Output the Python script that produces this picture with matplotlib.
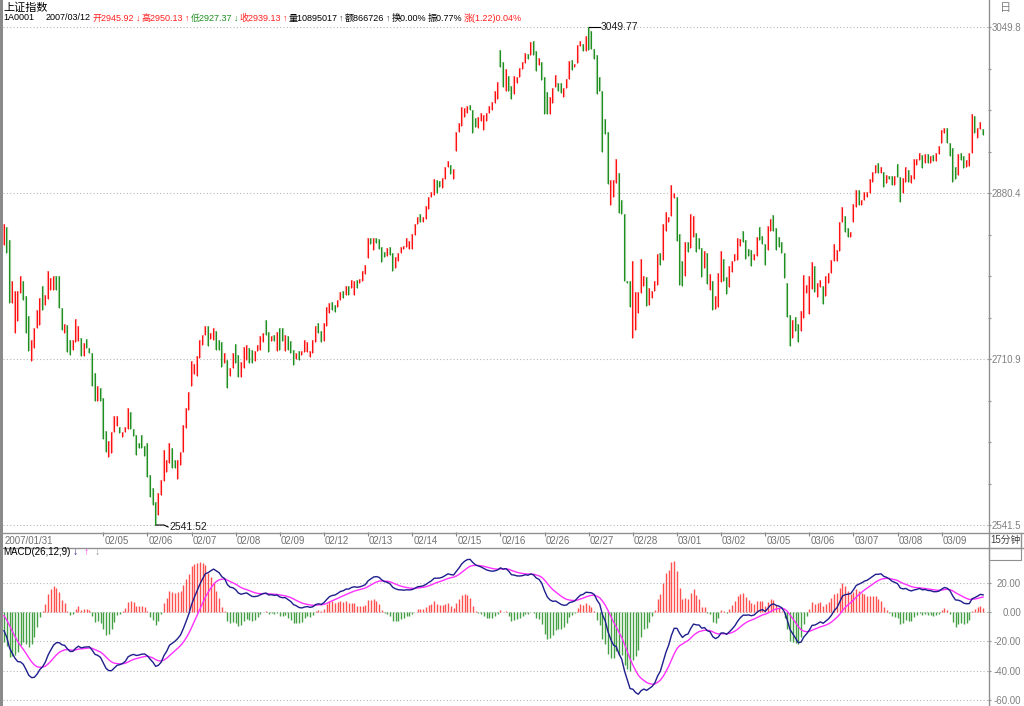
import numpy as np
import matplotlib
matplotlib.use('Agg')
import matplotlib.pyplot as plt
from matplotlib.lines import Line2D
from matplotlib.patches import Rectangle

plt.rcParams['font.family'] = ['Liberation Sans', 'Noto Sans CJK SC', 'DejaVu Sans']

W, H = 1024, 706

# 上证指数 15-minute bars, 2007/01/31 .. 2007/03/12 (open / close of each bar)
opens = [
    2827.2, 2845.5, 2832.6, 2768.0, 2737.4, 2749.3, 2778.2, 2790.8, 2774.8, 2754.4,
    2708.5, 2722.1, 2742.5, 2745.9, 2785.0, 2766.3, 2772.1, 2781.6, 2780.9, 2795.9,
    2795.9, 2762.9, 2737.4, 2745.9, 2730.6, 2720.4, 2727.9, 2728.9, 2732.3, 2713.6,
    2731.3, 2722.1, 2717.0, 2696.6, 2667.7, 2681.3, 2671.1, 2637.1, 2610.6, 2615.0,
    2636.1, 2642.2, 2641.5, 2631.3, 2636.1, 2639.5, 2656.5, 2639.5, 2633.7, 2625.2,
    2633.7, 2621.8, 2625.2, 2592.9, 2579.3, 2564.7, 2552.1, 2572.5, 2586.1, 2595.3,
    2604.8, 2620.1, 2608.2, 2588.5, 2603.1, 2615.7, 2640.5, 2658.5, 2683.7, 2695.9,
    2693.2, 2711.9, 2725.5, 2735.7, 2744.9, 2731.3, 2729.9, 2739.1, 2729.9, 2727.9,
    2706.8, 2710.2, 2693.2, 2701.7, 2726.5, 2715.3, 2692.5, 2701.7, 2710.2, 2722.1,
    2719.7, 2708.5, 2718.7, 2720.4, 2727.9, 2751.0, 2738.1, 2728.9, 2735.7, 2718.7,
    2742.5, 2742.5, 2718.7, 2734.7, 2728.9, 2720.4, 2710.9, 2718.7, 2715.3, 2717.7,
    2717.7, 2712.9, 2717.0, 2727.9, 2747.6, 2739.1, 2728.9, 2744.9, 2757.8, 2768.7,
    2766.3, 2763.9, 2770.7, 2779.9, 2776.5, 2785.0, 2783.3, 2776.5, 2791.8, 2788.4,
    2790.1, 2797.9, 2813.9, 2834.3, 2822.4, 2834.3, 2833.3, 2825.8, 2819.7, 2816.3,
    2825.1, 2819.0, 2803.7, 2810.5, 2819.0, 2823.1, 2825.8, 2823.1, 2823.1, 2837.7,
    2848.9, 2859.1, 2851.3, 2853.7, 2863.9, 2876.8, 2878.5, 2893.8, 2893.1, 2885.3,
    2894.5, 2907.4, 2909.1, 2894.5, 2923.7, 2943.1, 2948.9, 2958.4, 2962.5, 2970.3,
    2965.2, 2956.7, 2946.5, 2954.3, 2944.8, 2954.3, 2961.8, 2965.2, 2972.7, 2976.1,
    3026.4, 3014.5, 2984.6, 2999.9, 2989.7, 2981.5, 2993.1, 2998.5, 3006.7, 3012.8,
    3022.3, 3021.3, 3035.9, 3025.7, 3011.1, 3014.5, 2998.5, 2983.9, 2961.1, 2972.0,
    2989.0, 2993.1, 2992.4, 2978.1, 2987.3, 2996.5, 3016.2, 3008.7, 3012.8, 3030.5,
    3032.5, 3025.7, 3049.77, 3046.1, 3027.1, 3021.3, 2998.5, 2984.9, 2955.7, 2943.1,
    2868.3, 2876.8, 2890.4, 2900.6, 2873.4, 2859.1, 2790.1, 2790.1, 2732.3, 2740.8,
    2757.8, 2778.2, 2785.0, 2794.5, 2766.3, 2773.1, 2779.9, 2786.7, 2819.0, 2812.2,
    2842.1, 2850.3, 2857.1, 2875.1, 2876.8, 2838.7, 2810.5, 2795.9, 2830.9, 2824.1,
    2835.3, 2839.4, 2834.3, 2824.1, 2803.7, 2819.0, 2780.9, 2791.1, 2761.9, 2763.9,
    2789.1, 2812.9, 2794.5, 2784.3, 2799.3, 2811.5, 2812.2, 2826.5, 2842.1, 2832.6,
    2823.1, 2822.4, 2812.2, 2815.6, 2845.5, 2836.7, 2828.5, 2822.4, 2842.1, 2858.1,
    2844.5, 2836.0, 2830.9, 2819.0, 2788.4, 2756.1, 2732.3, 2753.7, 2746.9, 2739.1,
    2752.7, 2778.2, 2757.1, 2782.3, 2806.1, 2774.1, 2784.3, 2785.0, 2775.5, 2788.4,
    2798.6, 2810.5, 2810.5, 2820.7, 2851.3, 2857.1, 2844.5, 2835.3, 2850.3, 2865.9,
    2883.6, 2868.3, 2873.4, 2876.1, 2880.9, 2892.1, 2901.3, 2910.8, 2901.3, 2902.3,
    2891.1, 2897.9, 2897.9, 2888.7, 2910.1, 2896.5, 2880.2, 2892.1, 2904.0, 2890.4,
    2894.5, 2909.1, 2914.2, 2919.3, 2910.8, 2920.3, 2911.5, 2919.3, 2913.5, 2920.3,
    2931.2, 2941.4, 2946.5, 2931.2, 2926.1, 2907.4, 2898.9, 2921.0, 2918.3, 2907.4,
    2908.1, 2921.0, 2959.1, 2936.3, 2945.5, 2945.92,
]
closes = [
    2848.9, 2819.0, 2768.0, 2790.1, 2779.9, 2780.0, 2795.2, 2771.4, 2737.4, 2718.7,
    2730.6, 2742.5, 2761.2, 2773.1, 2761.2, 2776.5, 2801.0, 2793.5, 2795.9, 2780.9,
    2762.9, 2740.8, 2746.9, 2717.7, 2715.3, 2730.6, 2752.0, 2744.9, 2713.6, 2727.2,
    2722.1, 2717.0, 2683.7, 2667.7, 2683.0, 2667.7, 2629.3, 2615.7, 2626.9, 2636.1,
    2653.1, 2653.1, 2635.4, 2636.1, 2641.5, 2660.9, 2639.5, 2632.0, 2613.3, 2620.1,
    2620.1, 2611.6, 2590.5, 2570.1, 2562.3, 2541.52, 2574.2, 2587.8, 2618.4, 2607.5,
    2625.2, 2599.7, 2599.7, 2607.5, 2615.7, 2643.9, 2660.9, 2676.9, 2708.5, 2706.1,
    2714.3, 2730.6, 2735.7, 2744.9, 2724.5, 2737.4, 2742.5, 2720.4, 2720.4, 2702.7,
    2717.0, 2681.3, 2701.7, 2717.0, 2706.8, 2692.5, 2707.5, 2723.1, 2724.8, 2706.8,
    2706.8, 2718.7, 2725.5, 2734.7, 2737.4, 2735.7, 2717.7, 2734.7, 2728.9, 2738.1,
    2720.4, 2728.9, 2735.7, 2720.4, 2717.0, 2705.1, 2717.0, 2710.2, 2718.7, 2729.9,
    2727.9, 2718.7, 2729.9, 2744.9, 2737.4, 2727.9, 2747.6, 2763.9, 2768.0, 2761.2,
    2758.5, 2770.7, 2778.9, 2773.1, 2785.0, 2776.5, 2791.8, 2790.1, 2783.3, 2792.5,
    2800.3, 2807.1, 2834.3, 2828.5, 2834.3, 2829.2, 2823.1, 2809.5, 2814.9, 2824.1,
    2817.3, 2801.3, 2814.9, 2819.0, 2825.8, 2826.5, 2834.3, 2831.9, 2838.7, 2848.9,
    2856.4, 2851.3, 2856.4, 2867.3, 2876.8, 2881.9, 2894.5, 2880.9, 2886.3, 2895.5,
    2907.4, 2913.5, 2899.9, 2904.7, 2943.1, 2952.3, 2967.9, 2966.9, 2969.3, 2965.2,
    2941.4, 2947.5, 2958.4, 2961.8, 2960.1, 2961.8, 2969.3, 2973.7, 2984.9, 2994.1,
    3009.4, 2989.0, 3006.7, 2984.9, 2976.1, 2999.9, 2999.2, 3007.7, 3014.5, 3023.7,
    3016.9, 3034.9, 3021.3, 3005.3, 3017.9, 2995.8, 2961.1, 2961.1, 2978.1, 2987.3,
    3000.9, 2984.9, 2982.2, 2987.3, 2996.5, 3015.5, 3006.0, 3012.1, 3031.5, 3035.9,
    3025.7, 3040.7, 3026.4, 3027.1, 3016.9, 2981.5, 2984.9, 2922.7, 2940.7, 2889.7,
    2893.8, 2893.8, 2914.9, 2859.8, 2859.1, 2790.1, 2788.4, 2763.9, 2811.5, 2778.9,
    2778.9, 2812.9, 2795.2, 2765.3, 2783.3, 2779.9, 2790.1, 2818.3, 2807.1, 2848.9,
    2861.5, 2856.4, 2888.7, 2880.9, 2831.9, 2786.7, 2785.0, 2829.9, 2819.7, 2859.1,
    2857.1, 2819.7, 2823.1, 2794.5, 2820.7, 2787.7, 2797.9, 2760.5, 2775.5, 2798.6,
    2820.7, 2791.1, 2777.5, 2806.1, 2811.5, 2818.3, 2834.3, 2833.3, 2830.9, 2812.9,
    2815.6, 2806.1, 2818.3, 2835.3, 2832.6, 2828.5, 2807.1, 2846.9, 2853.7, 2842.1,
    2822.4, 2825.8, 2819.0, 2793.5, 2753.7, 2723.8, 2751.0, 2739.1, 2727.9, 2759.5,
    2796.9, 2786.7, 2795.9, 2809.5, 2778.9, 2788.4, 2791.8, 2767.3, 2795.2, 2798.6,
    2812.2, 2828.5, 2822.4, 2851.3, 2865.9, 2840.1, 2835.3, 2840.1, 2869.3, 2883.6,
    2868.3, 2873.4, 2881.9, 2881.9, 2894.5, 2902.3, 2909.1, 2900.6, 2907.4, 2886.3,
    2898.9, 2894.5, 2888.7, 2897.9, 2896.5, 2871.7, 2895.5, 2907.4, 2892.1, 2898.9,
    2914.9, 2914.9, 2921.0, 2905.7, 2920.3, 2911.5, 2918.3, 2913.5, 2921.7, 2928.5,
    2944.8, 2946.5, 2931.9, 2918.3, 2892.1, 2894.5, 2920.3, 2914.2, 2905.7, 2914.2,
    2921.0, 2961.1, 2941.4, 2946.5, 2953.3, 2939.13,
]

day_labels = ['2007/01/31', '02/05', '02/06', '02/07', '02/08', '02/09', '02/12',
              '02/13', '02/14', '02/15', '02/16', '02/26', '02/27', '02/28',
              '03/01', '03/02', '03/05', '03/06', '03/07', '03/08', '03/09']
first_day_bars = 36   # bars of 01/31, 02/01 and 02/02 shown before 02/05
bars_per_day = 16

price_ticks = [3049.8, 2880.4, 2710.9, 2541.5]
macd_ticks = [20, 0, -20, -40, -60]

# EMA state carried in from before the first visible bar (late-January prices)
seed_ema12 = 2893.0
seed_ema26 = 2903.0
seed_dea = 0.0

red = '#ff2020'
green = '#1f8f1f'

header = [
    ('1A0001', 'black', 3), ('2007/03/12', 'black', 46),
    ('开2945.92', red, 85), ('↓', red, 128),
    ('高2950.13', red, 134), ('↑', red, 176),
    ('低2927.37', green, 182), ('↓', green, 224),
    ('收2939.13', red, 230), ('↑', red, 275),
    ('量10895017', 'black', 282), ('↑', '#404040', 327),
    ('额866726', 'black', 332), ('↑', '#404040', 372),
    ('换0.00%', 'black', 378), ('振0.77%', 'black', 415),
    ('涨(1.22)0.04%', red, 452),
]

o = np.array(opens)
c = np.array(closes)
n = len(c)
idx = np.arange(n)

# MACD(26,12,9)
dif = np.empty(n)
dea = np.empty(n)
e12, e26, d = seed_ema12, seed_ema26, seed_dea
for k in range(n):
    e12 += (c[k] - e12) * 2 / 13
    e26 += (c[k] - e26) * 2 / 27
    dif[k] = e12 - e26
    d += (dif[k] - d) * 2 / 10
    dea[k] = d
hist = 2 * (dif - dea)

fig = plt.figure(figsize=(W / 100, H / 100), dpi=100, facecolor='white')


def fx(x):
    return x / W


def fy(y):
    return 1 - y / H


x0, x1 = 3, 988
step = 2.758
xlim = ((x0 - 4) / step, (x1 - 4) / step)

ax = fig.add_axes([fx(x0), fy(532), (x1 - x0) / W, 532 / H])
axd = fig.add_axes([fx(x0), fy(548), (x1 - x0) / W, 16 / H])
axm = fig.add_axes([fx(x0), 0, (x1 - x0) / W, 158 / H])

for a in (ax, axd, axm):
    a.set_xlim(*xlim)
    for s in a.spines.values():
        s.set_visible(False)
    a.set_facecolor('white')

grid_kw = dict(color='#b8b8b8', lw=0.8, ls=(0, (1, 2)), zorder=0)

# price panel
ax.set_ylim(2534.4, 3077.4)
for v in price_ticks:
    ax.axhline(v, **grid_kw)

up = c >= o
hi = np.maximum(o, c)
lo = np.minimum(o, c)
lo = np.where(hi - lo < 1.2, hi - 1.2, lo)
ax.vlines(idx[up], lo[up], hi[up], color='#ff9c9c', lw=1.6, zorder=2)
ax.vlines(idx[up] - 0.15, lo[up], hi[up], color='#ff1010', lw=0.75, zorder=3)
ax.vlines(idx[~up], lo[~up], hi[~up], color='#9ccc9c', lw=1.6, zorder=2)
ax.vlines(idx[~up] - 0.15, lo[~up], hi[~up], color='#1f8f1f', lw=0.75, zorder=3)

imax = int(np.argmax(hi))
imin = int(np.argmin(lo))
ax.plot([imax, imax + 4], [hi[imax], hi[imax]], color='black', lw=0.8)
ax.text(imax + 4.4, hi[imax], f'{hi[imax]:.2f}', fontsize=7.5, va='center', color='#202020')
ax.plot([imin, imin + 3, imin + 4.5], [lo[imin], lo[imin], lo[imin] - 2], color='black', lw=0.8)
ax.text(imin + 5, lo[imin] - 2, f'{lo[imin]:.2f}', fontsize=7.5, va='center', color='#202020')

ax.set_xticks([])
ax.yaxis.tick_right()
ax.set_yticks(price_ticks)
ax.set_yticklabels([f'{v:.1f}' for v in price_ticks])
pstep = (price_ticks[0] - price_ticks[-1]) / 12
ax.set_yticks([price_ticks[-1] + pstep * k for k in range(13)], minor=True)
ax.tick_params(axis='y', which='both', direction='out', length=2.5, width=0.8,
               color='#909090', labelsize=7, labelcolor='#808080', pad=21.3)
for t in ax.get_yticklabels():
    t.set_ha('right')

# date strip
day_starts = [0] + [first_day_bars + bars_per_day * k for k in range(len(day_labels) - 1)]
axd.set_ylim(0, 1)
axd.set_yticks([])
axd.set_xticks(day_starts[1:])
axd.set_xticklabels([])
axd.tick_params(axis='x', which='both', top=True, bottom=False, direction='in',
                length=3, width=0.8, color='#808080')
for s, lab in zip(day_starts, day_labels):
    axd.text(s + 0.35, 0.45, lab, fontsize=7, color='#707070', va='center', ha='left')

# MACD panel
axm.set_ylim(-64.2, 43.7)
for v in macd_ticks:
    axm.axhline(v, **grid_kw)
pos = hist >= 0
axm.vlines(idx[pos], 0, hist[pos], color='#ff5050', lw=1.0, zorder=2)
axm.vlines(idx[~pos], 0, hist[~pos], color='#45a045', lw=1.0, zorder=2)
axm.plot(idx, dif, color='#1e1e8c', lw=1.0, zorder=4)
axm.plot(idx, dea, color='#ff30ff', lw=1.0, zorder=3)
axm.set_xticks([])
axm.yaxis.tick_right()
axm.set_yticks(macd_ticks)
axm.set_yticklabels([f'{v:.2f}' for v in macd_ticks])
axm.tick_params(axis='y', direction='out', length=2.5, width=0.8, color='#909090',
                labelsize=7, labelcolor='#808080', pad=21.3)
for t in axm.get_yticklabels():
    t.set_ha('right')

# frame lines
line_kw = dict(color='#909090', lw=1.0, transform=fig.transFigure)
fig.add_artist(Line2D([fx(988.5), fx(988.5)], [0, 1], **line_kw))
fig.add_artist(Line2D([0, 1], [fy(532.5), fy(532.5)], **line_kw))
fig.add_artist(Line2D([0, 1], [fy(547.5), fy(547.5)], **line_kw))
fig.add_artist(Rectangle((0, 0), fx(2.5), 1, transform=fig.transFigure,
                         color='#8a8a8a', lw=0))
fig.add_artist(Rectangle((fx(988.5), fy(560)), fx(32), 12.5 / H, transform=fig.transFigure,
                         fill=False, ec='#909090', lw=0.8))
fig.add_artist(Line2D([fx(1020.5), fx(1020.5)], [fy(547.5), fy(532.5)], **line_kw))

# header text, laid out left to right without overlaps
fig.text(fx(3), fy(8), '上证指数', fontsize=8, va='center', ha='left', color='black')
renderer = fig.canvas.get_renderer()
prev_end = 0
for txt, col, xp in header:
    xs = max(xp, prev_end + 1.5)
    t = fig.text(fx(xs), fy(18), txt, fontsize=6.5, va='center', ha='left', color=col)
    prev_end = t.get_window_extent(renderer=renderer).x1

fig.text(fx(3), fy(552), 'MACD(26,12,9)', fontsize=7, va='center', ha='left', color='black')
fig.text(fx(73), fy(552), '↓', fontsize=7.5, va='center', color='#1e1e8c')
fig.text(fx(84), fy(552), '↑', fontsize=7.5, va='center', color='#ff30ff')
fig.text(fx(95), fy(552), '↓', fontsize=7.5, va='center', color='#909090')

fig.text(fx(1005), fy(540), '15分钟', fontsize=7, va='center', ha='center', color='#404040')
fig.text(fx(1006), fy(8), '日', fontsize=8, va='center', ha='center', color='#808080')

fig.savefig('out.png', dpi=100, facecolor='white')
